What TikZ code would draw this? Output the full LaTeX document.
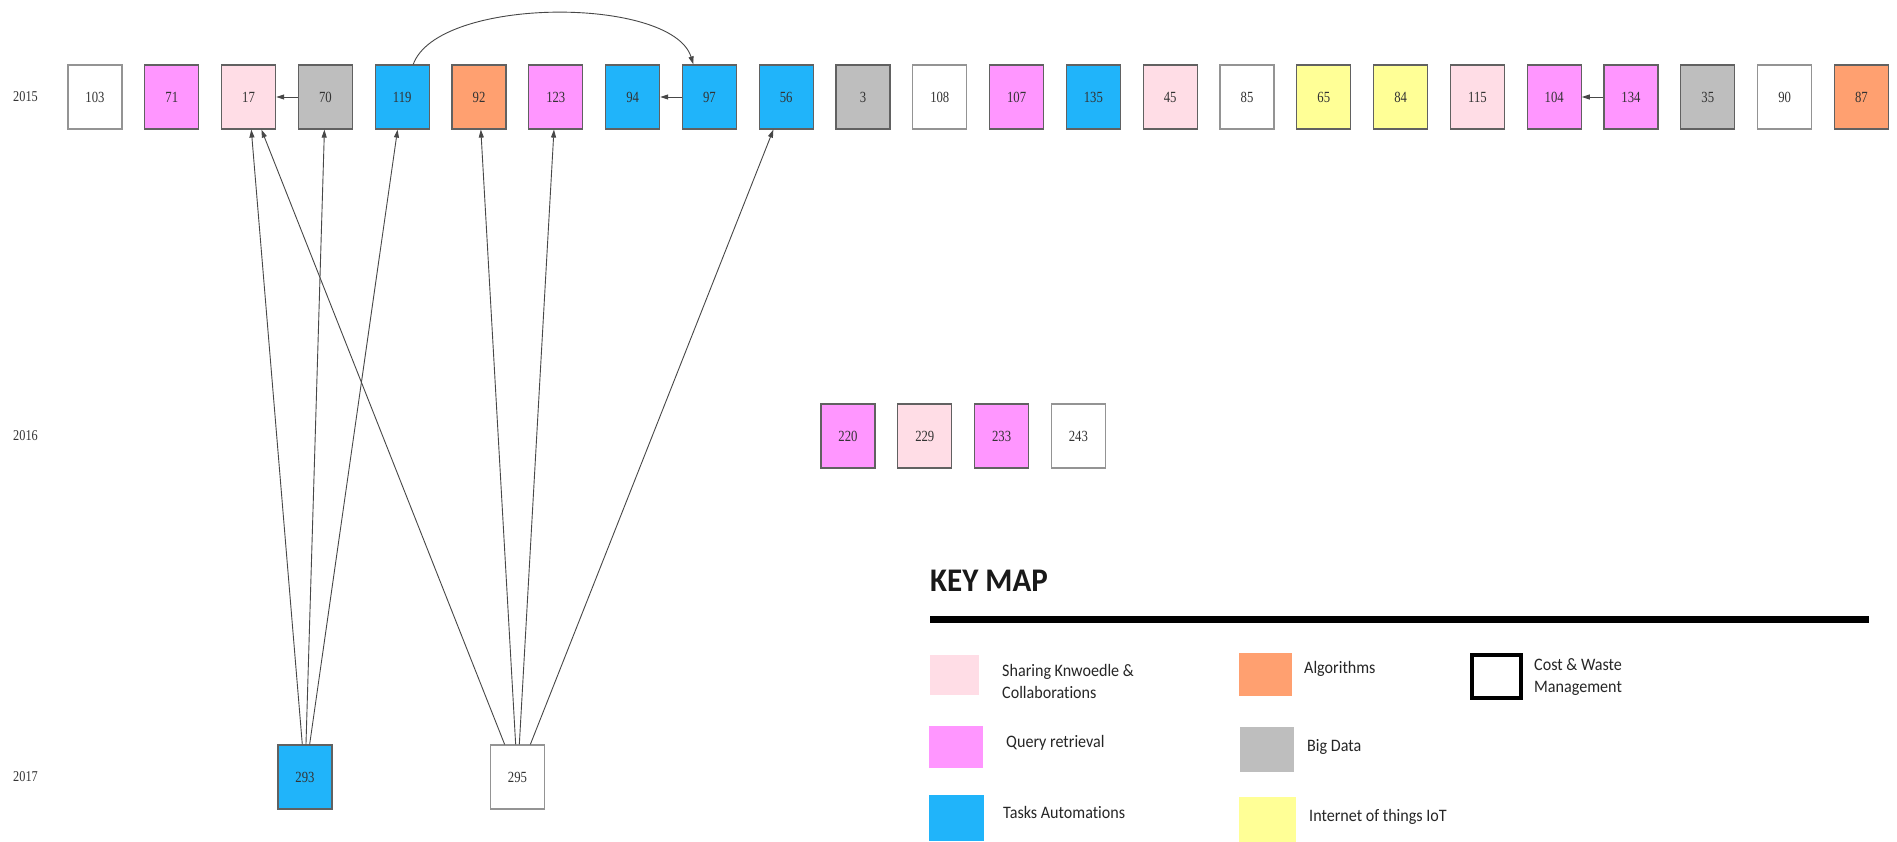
\documentclass[tikz,border=0pt]{standalone}
\usepackage{fontspec}
\usepackage{graphicx}
\setmainfont{Liberation Serif}
\newfontfamily\legfont[Ligatures={NoCommon,NoRare},Contextuals=NoAlternate]{Carlito}
\usetikzlibrary{arrows.meta}
\definecolor{cSK}{HTML}{FFDDE6}
\definecolor{cQR}{HTML}{FF96FF}
\definecolor{cTA}{HTML}{20B4FA}
\definecolor{cAL}{HTML}{FFA070}
\definecolor{cBD}{HTML}{BEBEBE}
\definecolor{cIOT}{HTML}{FFFF96}
\newcommand\nsq[1]{\scalebox{0.82}[1]{#1}}
\newcommand\lsq[1]{\scalebox{0.92}[1]{#1}}
\begin{document}
\begin{tikzpicture}[x=1pt,y=-1pt,
  box/.style={rectangle,minimum width=54pt,minimum height=64pt,inner sep=0pt,line width=1.2pt,draw=black!62,font=\fontsize{15.5}{18}\selectfont,text=black!80},
  wt/.style={box,fill=white,draw=black!42},
  sk/.style={box,fill=cSK},
  qr/.style={box,fill=cQR},
  ta/.style={box,fill=cTA},
  al/.style={box,fill=cAL},
  bd/.style={box,fill=cBD},
  iot/.style={box,fill=cIOT},
  yr/.style={inner sep=0pt,font=\fontsize{15}{17}\selectfont,text=black!80},
  arr/.style={draw=black!72,line width=0.9pt,-{Triangle[length=8pt,width=5pt]}},
  legsq/.style={rectangle,inner sep=0pt,draw=none,fill=#1},
  legtxt/.style={anchor=west,align=left,inner sep=0pt,font=\legfont\fontsize{17.5}{22}\selectfont,text=black!85}]
\useasboundingbox[fill=white] (0,0) rectangle (1897,842);

% year labels
\node[yr] (y15) at (25.5,97) {\nsq{2015}};
\node[yr] (y16) at (25.5,436) {\nsq{2016}};
\node[yr] (y17) at (25.5,777) {\nsq{2017}};

% 2015 row
\node[wt]  (a103) at (95,97)     {\nsq{103}};
\node[qr]  (a71)  at (171.8,97)  {\nsq{71}};
\node[sk]  (a17)  at (248.6,97)  {\nsq{17}};
\node[bd]  (a70)  at (325.4,97)  {\nsq{70}};
\node[ta]  (a119) at (402.2,97)  {\nsq{119}};
\node[al]  (a92)  at (479,97)    {\nsq{92}};
\node[qr]  (a123) at (555.8,97)  {\nsq{123}};
\node[ta]  (a94)  at (632.6,97)  {\nsq{94}};
\node[ta]  (a97)  at (709.4,97)  {\nsq{97}};
\node[ta]  (a56)  at (786.2,97)  {\nsq{56}};
\node[bd]  (a3)   at (863,97)    {\nsq{3}};
\node[wt]  (a108) at (939.8,97)  {\nsq{108}};
\node[qr]  (a107) at (1016.6,97) {\nsq{107}};
\node[ta]  (a135) at (1093.4,97) {\nsq{135}};
\node[sk]  (a45)  at (1170.2,97) {\nsq{45}};
\node[wt]  (a85)  at (1247,97)   {\nsq{85}};
\node[iot] (a65)  at (1323.8,97) {\nsq{65}};
\node[iot] (a84)  at (1400.6,97) {\nsq{84}};
\node[sk]  (a115) at (1477.4,97) {\nsq{115}};
\node[qr]  (a104) at (1554.2,97) {\nsq{104}};
\node[qr]  (a134) at (1631,97)   {\nsq{134}};
\node[bd]  (a35)  at (1707.8,97) {\nsq{35}};
\node[wt]  (a90)  at (1784.6,97) {\nsq{90}};
\node[al]  (a87)  at (1861.4,97) {\nsq{87}};

% 2016 row
\node[qr] (c220) at (848,436)    {\nsq{220}};
\node[sk] (c229) at (924.8,436)  {\nsq{229}};
\node[qr] (c233) at (1001.6,436) {\nsq{233}};
\node[wt] (c243) at (1078.4,436) {\nsq{243}};

% 2017 row
\node[ta] (b293) at (305,777)   {\nsq{293}};
\node[wt] (b295) at (517.5,777) {\nsq{295}};

% connectors
\draw[arr] (a70) -- (a17);
\draw[arr] (a97) -- (a94);
\draw[arr] (a134) -- (a104);
\draw[arr] ([xshift=11pt]a119.north) .. controls (438,-4) and (672,-4) .. ([xshift=-16pt]a97.north);
\draw[arr] (b293) -- (a17);
\draw[arr] (b293) -- (a70);
\draw[arr] (b293) -- (a119);
\draw[arr] (b295) -- (a17);
\draw[arr] (b295) -- (a92);
\draw[arr] (b295) -- (a123);
\draw[arr] (b295) -- (a56);

% key map
\node[anchor=west,inner sep=0pt,font=\legfont\bfseries\fontsize{33}{36}\selectfont,text=black!90] (kt) at (930,581) {\scalebox{0.94}[1]{KEY MAP}};
\draw[line width=7pt] (930,619.5) -- (1869,619.5);

\node[legsq=cSK,minimum width=49pt,minimum height=40pt] (kSK) at (954.5,675) {};
\node[legsq=cQR,minimum width=54pt,minimum height=42pt] (kQR) at (956,747) {};
\node[legsq=cTA,minimum width=55pt,minimum height=46pt] (kTA) at (956.5,818) {};
\node[legsq=cAL,minimum width=53pt,minimum height=43pt] (kAL) at (1265.5,674.5) {};
\node[legsq=cBD,minimum width=54pt,minimum height=45pt] (kBD) at (1267,749.5) {};
\node[legsq=cIOT,minimum width=57pt,minimum height=45pt] (kIOT) at (1267.5,819.5) {};
\node[rectangle,inner sep=0pt,draw=black,line width=4pt,fill=white,minimum width=49pt,minimum height=43pt] (kCW) at (1496.5,676.5) {};

\node[legtxt] (tSK) at (1002,681.5) {\lsq{Sharing Knwoedle \&}\\\lsq{Collaborat\kern0pt ions}};
\node[legtxt] (tQR) at (1006,743) {\lsq{Query retrieval}};
\node[legtxt] (tTA) at (1003,812) {\lsq{Tasks Automat\kern0pt ions}};
\node[legtxt] (tAL) at (1304,669) {\lsq{Algorithms}};
\node[legtxt] (tBD) at (1307,747) {\lsq{Big Data}};
\node[legtxt] (tIOT) at (1309,817) {\lsq{Internet of things IoT}};
\node[legtxt] (tCW) at (1534,677.5) {\lsq{Cost \& Waste}\\\lsq{Management}};
\end{tikzpicture}
\end{document}
